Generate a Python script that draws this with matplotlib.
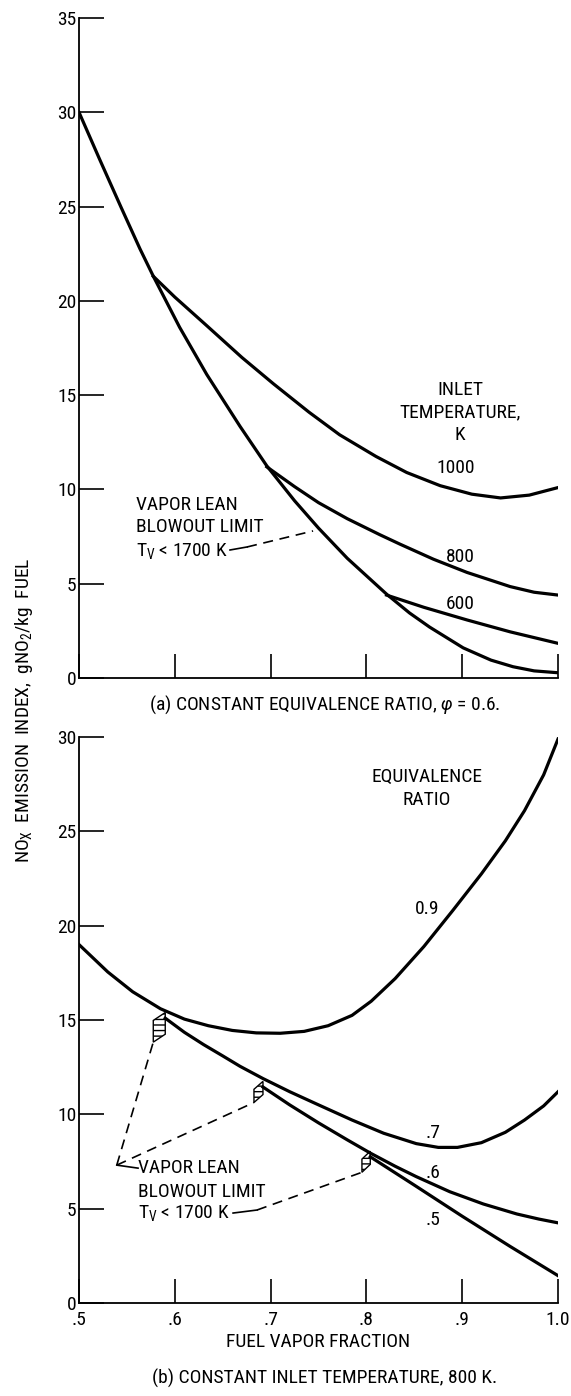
import matplotlib
matplotlib.use("Agg")
import matplotlib.pyplot as plt
from matplotlib import font_manager
from matplotlib.patches import Polygon

# ---- (a) constant equivalence ratio 0.6, NOx index vs fuel vapor fraction
blowout_a_x = [0.5, 0.522, 0.544, 0.5637, 0.5776, 0.605, 0.6333, 0.668, 0.696, 0.725, 0.75, 0.78, 0.821, 0.845, 0.866, 0.901, 0.93, 0.953, 0.975, 1.0]
blowout_a_y = [30.0, 27.45, 24.95, 22.75, 21.3, 18.6, 16.1, 13.35, 11.25, 9.4, 7.95, 6.35, 4.45, 3.45, 2.7, 1.6, 0.95, 0.6, 0.38, 0.28]
t1000_x = [0.5776, 0.6, 0.633, 0.67, 0.703, 0.74, 0.772, 0.81, 0.842, 0.877, 0.91, 0.94, 0.97, 1.0]
t1000_y = [21.3, 20.2, 18.7, 17.0, 15.6, 14.1, 12.9, 11.75, 10.9, 10.2, 9.75, 9.55, 9.7, 10.1]
t800_x = [0.696, 0.725, 0.75, 0.78, 0.814, 0.835, 0.87, 0.905, 0.95, 0.975, 1.0]
t800_y = [11.2, 10.15, 9.3, 8.45, 7.6, 7.1, 6.3, 5.6, 4.85, 4.55, 4.4]
t600_x = [0.821, 0.86, 0.905, 0.95, 1.0]
t600_y = [4.4, 3.75, 3.08, 2.45, 1.84]

# ---- (b) constant inlet temperature 800 K
phi09_x = [0.5, 0.53, 0.556, 0.585, 0.61, 0.635, 0.66, 0.685, 0.71, 0.735, 0.76, 0.785, 0.805, 0.83, 0.86, 0.89, 0.92, 0.945, 0.965, 0.985, 1.0]
phi09_y = [19.0, 17.55, 16.5, 15.6, 15.05, 14.7, 14.45, 14.32, 14.3, 14.4, 14.7, 15.25, 16.0, 17.2, 18.9, 20.8, 22.75, 24.5, 26.1, 28.0, 29.9]
phi07_x = [0.59, 0.61, 0.63, 0.65, 0.668, 0.692, 0.72, 0.748, 0.785, 0.818, 0.852, 0.875, 0.895, 0.92, 0.945, 0.965, 0.985, 1.0]
phi07_y = [15.1, 14.35, 13.7, 13.1, 12.55, 11.9, 11.2, 10.55, 9.7, 9.0, 8.45, 8.25, 8.25, 8.5, 9.05, 9.7, 10.45, 11.2]
phi06_x = [0.692, 0.72, 0.75, 0.78, 0.804, 0.83, 0.852, 0.887, 0.922, 0.957, 0.98, 1.0]
phi06_y = [11.45, 10.5, 9.55, 8.65, 7.95, 7.25, 6.7, 5.9, 5.25, 4.72, 4.45, 4.25]
phi05_x = [0.804, 0.85, 0.9, 0.95, 1.0]
phi05_y = [7.75, 6.25, 4.6, 3.0, 1.45]

xticks = [0.5, 0.6, 0.7, 0.8, 0.9, 1.0]
xticklabels = ['.5', '.6', '.7', '.8', '.9', '1.0']

# narrow typeface if there is one
avail = {f.name for f in font_manager.fontManager.ttflist}
narrow = [f for f in ['Liberation Sans Narrow', 'Roboto Condensed'] if f in avail]
base = narrow[0] if narrow else 'DejaVu Sans'
plt.rcParams['font.family'] = [base, 'DejaVu Sans']
plt.rcParams['font.stretch'] = 'condensed'
plt.rcParams['mathtext.fontset'] = 'custom'
plt.rcParams['mathtext.rm'] = base
plt.rcParams['mathtext.it'] = base + ':italic'
plt.rcParams['font.size'] = 14

LW = 2.3
DASH = (6, 4)
fig = plt.figure(figsize=(5.71, 13.96), dpi=100)
ax1 = fig.add_axes([0.1384, 0.5143, 0.8389, 0.4728])
ax2 = fig.add_axes([0.1384, 0.0666, 0.8389, 0.4054])

for ax, top in ((ax1, 35), (ax2, 30)):
    ax.set_xlim(0.5, 1.0)
    ax.set_ylim(0, top)
    for s in ('top', 'right'):
        ax.spines[s].set_visible(False)
    for s in ('left', 'bottom'):
        ax.spines[s].set_linewidth(1.3)
    ax.set_yticks(range(0, top + 1, 5))
    ax.set_xticks(xticks)
    ax.tick_params(axis='y', direction='in', length=18, width=1.2, pad=2, labelsize=14)
    ax.tick_params(axis='x', direction='in', length=17, width=1.2, pad=6, labelsize=14)

ax1.set_xticklabels([])
ax2.set_xticklabels(xticklabels)

# panel (a)
ax1.plot(blowout_a_x, blowout_a_y, 'k-', lw=LW)
ax1.plot(t1000_x, t1000_y, 'k-', lw=LW)
ax1.plot(t800_x, t800_y, 'k-', lw=LW)
ax1.plot(t600_x, t600_y, 'k-', lw=LW)

ax1.text(0.8977, 15.28, 'INLET', ha='center', va='center')
ax1.text(0.8977, 14.1, 'TEMPERATURE,', ha='center', va='center')
ax1.text(0.8977, 12.9, 'K', ha='center', va='center')
ax1.text(0.8935, 11.14, '1000', ha='center', va='center')
ax1.text(0.8977, 6.42, '800', ha='center', va='center')
ax1.text(0.8977, 3.93, '600', ha='center', va='center')

ax1.text(0.5595, 9.18, 'VAPOR LEAN', ha='left', va='center')
ax1.text(0.5595, 8.0, 'BLOWOUT LIMIT', ha='left', va='center')
ax1.text(0.5595, 6.74, r'T$_\mathrm{V}$ < 1700 K', ha='left', va='center')
ax1.plot([0.6576, 0.6754], [6.79, 6.95], 'k-', lw=1.2)
ax1.plot([0.6754, 0.7443], [6.95, 7.8], 'k--', lw=1.2, dashes=DASH)

# panel (b)
ax2.plot(phi09_x, phi09_y, 'k-', lw=LW)
ax2.plot(phi07_x, phi07_y, 'k-', lw=LW)
ax2.plot(phi06_x, phi06_y, 'k-', lw=LW)
ax2.plot(phi05_x, phi05_y, 'k-', lw=LW)

ax2.text(0.8633, 27.87, 'EQUIVALENCE', ha='center', va='center')
ax2.text(0.8633, 26.66, 'RATIO', ha='center', va='center')
ax2.text(0.8633, 20.9, '0.9', ha='center', va='center')
ax2.text(0.8696, 9.0, '.7', ha='center', va='center')
ax2.text(0.8696, 6.9, '.6', ha='center', va='center')
ax2.text(0.8696, 4.4, '.5', ha='center', va='center')


# hatched blowout markers at the lean end of each curve
def blowout_mark(ax, x0, y0, w, h, slant=0.42):
    top = y0 + 0.3
    pts = [(x0 - w, top - slant - h), (x0, top - h), (x0, top), (x0 - w, top - slant)]
    ax.add_patch(Polygon(pts, closed=True, fill=False, edgecolor='k',
                         lw=1.0, hatch='---'))
    return pts[0]


b1 = blowout_mark(ax2, phi07_x[0], phi07_y[0], 0.0125, 1.15)
b2 = blowout_mark(ax2, phi06_x[0], phi06_y[0], 0.0094, 0.7)
b3 = blowout_mark(ax2, phi05_x[0], phi05_y[0], 0.0087, 0.7)

tip = (0.5394, 7.31)
ax2.plot([tip[0], b1[0]], [tip[1], b1[1]], 'k--', lw=1.2, dashes=DASH)
ax2.plot([tip[0], b2[0]], [tip[1], b2[1]], 'k--', lw=1.2, dashes=DASH)
ax2.plot([tip[0], 0.5616], [tip[1], 7.15], 'k-', lw=1.2)
ax2.text(0.5616, 7.15, 'VAPOR LEAN', ha='left', va='center')
ax2.text(0.5616, 5.88, 'BLOWOUT LIMIT', ha='left', va='center')
ax2.text(0.5616, 4.77, r'T$_\mathrm{V}$ < 1700 K', ha='left', va='center')
ax2.plot([0.6608, 0.6858], [4.77, 4.93], 'k-', lw=1.2)
ax2.plot([0.6858, b3[0]], [4.93, b3[1]], 'k--', lw=1.2, dashes=DASH)

# shared labels and captions
fig.text(24 / 571, 1 - 710 / 1396,
         r'NO$_\mathrm{X}$  EMISSION  INDEX,  gNO$_\mathrm{2}$/kg  FUEL',
         rotation=90, ha='center', va='center', fontsize=14)
fig.text(325 / 571, 1 - 705 / 1396, '(a) CONSTANT EQUIVALENCE RATIO, $\\varphi$ = 0.6.',
         ha='center', va='center', fontsize=14)
fig.text(318 / 571, 1 - 1342 / 1396, 'FUEL VAPOR FRACTION', ha='center', va='center', fontsize=14)
fig.text(325 / 571, 1 - 1378 / 1396, '(b) CONSTANT INLET TEMPERATURE, 800 K.',
         ha='center', va='center', fontsize=14)

fig.savefig('out.png', dpi=100)
